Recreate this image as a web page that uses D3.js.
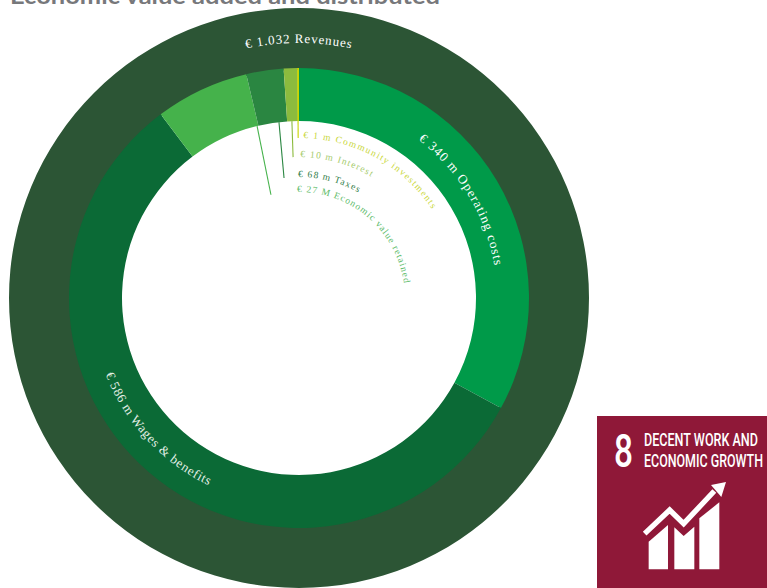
<!DOCTYPE html>
<html>
<head>
<meta charset="utf-8">
<script src="https://cdn.jsdelivr.net/npm/d3@7"></script>
<style>
  html, body { margin: 0; padding: 0; background: #fff; overflow: hidden; }
  svg { display: block; }
</style>
</head>
<body>
<svg id="chart" width="767" height="588"></svg>
<script>
// Economic value, EUR million
const totalLabel = "€ 1.032 Revenues";
const totalValue = [1032];
const categories = ["Operating costs", "Wages & benefits", "Taxes", "Economic value retained", "Interest", "Community investments"];
const values = [340, 586, 68, 27, 10, 1];
const valueLabels = ["€ 340 m Operating costs", "€ 586 m Wages & benefits", "€ 68 m Taxes", "€ 27 M Economic value retained", "€ 10 m Interest", "€ 1 m Community investments"];
const sdgNumber = "8";
const sdgTitle = ["DECENT WORK AND", "ECONOMIC GROWTH"];

// Presentation
const wedgeColors = ["#009a49", "#0b6a36", "#45b24b", "#2a8641", "#8cbb3e", "#c8d400"];
const outerColor = "#2c5535";
const cx = 299, cy = 298;
const rOuter = 290, rMid = 230, rInner = 177;

const svg = d3.select("#chart");
const defs = svg.append("defs");
const g = svg.append("g").attr("transform", `translate(${cx},${cy})`);

// Heading, cut off by the top edge of the page
svg.append("text")
  .attr("x", 10).attr("y", 3.5)
  .attr("font-family", "Lato, 'Open Sans', sans-serif")
  .attr("font-weight", 700).attr("font-size", 22)
  .attr("fill", "#77787b")
  .attr("textLength", 430).attr("lengthAdjust", "spacingAndGlyphs")
  .text("Economic value added and distributed");

// Rings: the outer ring runs slightly under the inner one so no seam shows between them
const angle = d3.scaleLinear().domain([0, d3.sum(values)]).range([0, 2 * Math.PI]);

g.append("path")
  .attr("d", d3.arc()({ innerRadius: rMid - 2, outerRadius: rOuter, startAngle: 0, endAngle: angle(totalValue[0]) }))
  .attr("fill", outerColor);

const pie = d3.pie().sort(null).value(d => d).startAngle(0).endAngle(2 * Math.PI);
const arcInner = d3.arc().innerRadius(rInner).outerRadius(rMid);
g.selectAll("path.wedge").data(pie(values)).join("path")
  .attr("class", "wedge")
  .attr("d", arcInner)
  .attr("fill", (d, i) => wedgeColors[i]);

// Leader lines, one per small wedge: [from radius, to radius, from angle, to angle, colour, width]
const leaders = [
  [230, 160, -0.3, -0.3, "#c8d400", 1.1],
  [177, 141, -2.3, -2.4, "#8cbb3e", 1.1],
  [177, 121, -6.5, -7.1, "#2a8641", 1.1],
  [177, 107, -13.7, -15.2, "#45b24b", 1.1]
];
const rad = d => d * Math.PI / 180;
g.selectAll("line.leader").data(leaders).join("line")
  .attr("class", "leader")
  .attr("x1", d => d3.pointRadial(rad(d[2]), d[0])[0])
  .attr("y1", d => d3.pointRadial(rad(d[2]), d[0])[1])
  .attr("x2", d => d3.pointRadial(rad(d[3]), d[1])[0])
  .attr("y2", d => d3.pointRadial(rad(d[3]), d[1])[1])
  .attr("stroke", d => d[4])
  .attr("stroke-width", d => d[5]);

// Curved labels: each runs along a circle around the chart centre
function curved(id, text, r, a0, a1, size, spacing, color) {
  const [x0, y0] = d3.pointRadial(rad(a0), r);
  const [x1, y1] = d3.pointRadial(rad(a1), r);
  const sweep = a1 > a0 ? 1 : 0;
  defs.append("path").attr("id", id)
    .attr("d", `M${x0},${y0}A${r},${r} 0 0 ${sweep} ${x1},${y1}`);
  g.append("text")
    .attr("font-family", "'Liberation Serif', serif")
    .attr("font-size", size)
    .attr("letter-spacing", spacing)
    .attr("fill", color)
    .append("textPath")
    .attr("href", "#" + id)
    .text(text);
}

curved("lab-total", totalLabel, 255, -12, 14, 13, 0.85, "#ffffff");
curved("lab-op", valueLabels[0], 198, 37, 85, 13, 1.05, "#ffffff");
curved("lab-wages", valueLabels[1], 208, 248.5, 200, 13, 0.75, "#e3efe6");
curved("lab-community", valueLabels[5], 160, 1.5, 60, 9.5, 1.35, "#c9d73a");
curved("lab-interest", valueLabels[4], 141, 0.5, 35, 9.5, 1.2, "#a5cb6c");
curved("lab-taxes", valueLabels[2], 121, -0.5, 35, 9.5, 1.1, "#2f7d48");
curved("lab-retained", valueLabels[3], 106, -1, 95, 9.5, 1.0, "#5dbb69");

// SDG 8 badge
const badge = svg.append("g").attr("transform", "translate(597,416)");
badge.append("rect").attr("width", 170).attr("height", 172).attr("fill", "#8f1838");
badge.append("text")
  .attr("x", 26.5).attr("y", 50.5)
  .attr("text-anchor", "middle")
  .attr("font-family", "Roboto, sans-serif").attr("font-weight", 500)
  .attr("font-size", 47).attr("fill", "#fff")
  .attr("textLength", 19).attr("lengthAdjust", "spacingAndGlyphs")
  .text(sdgNumber);
badge.selectAll("text.title").data(sdgTitle).join("text")
  .attr("class", "title")
  .attr("x", 47)
  .attr("y", (d, i) => 30 + i * 21)
  .attr("font-family", "Roboto, sans-serif").attr("font-weight", 500)
  .attr("font-size", 19).attr("fill", "#fff")
  .attr("textLength", (d, i) => i ? 119 : 114)
  .attr("lengthAdjust", "spacingAndGlyphs")
  .text(d => d);

const icon = badge.append("g").attr("transform", "translate(0,-6) scale(0.3333)");
const iconLine = d3.line();
const columns = [
  [[155, 478], [155, 395], [213, 345], [213, 478]],
  [[232, 478], [232, 352], [260, 378], [292, 350], [292, 478]],
  [[307, 478], [307, 325], [367, 277], [367, 478]]
];
icon.selectAll("path.col").data(columns).join("path")
  .attr("class", "col")
  .attr("d", d => iconLine(d) + "Z")
  .attr("fill", "#fff");
icon.append("path")
  .attr("d", iconLine([[143, 371], [218, 300], [260, 341], [352, 243]]))
  .attr("fill", "none").attr("stroke", "#fff").attr("stroke-width", 16);
icon.append("path")
  .attr("d", iconLine([[342, 225], [387, 216], [373, 261]]) + "Z")
  .attr("fill", "#fff");
</script>
</body>
</html>
